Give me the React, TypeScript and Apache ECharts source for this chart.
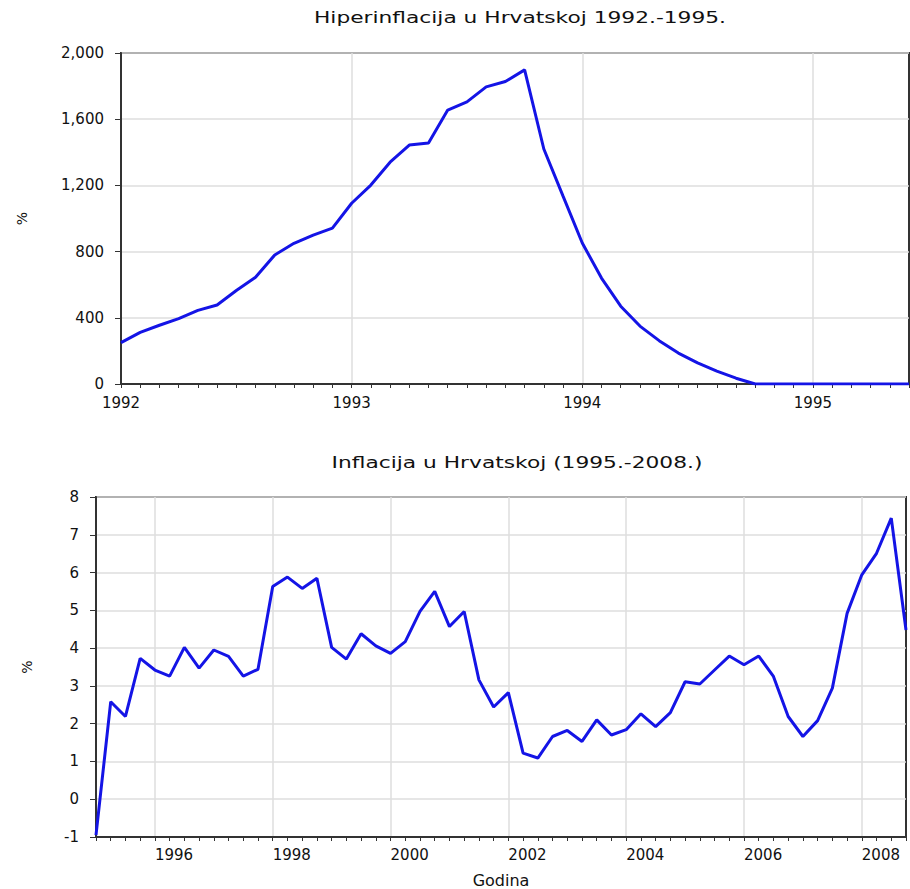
import React, { useEffect, useRef } from "react";
import * as echarts from "echarts";

// Top chart: monthly hyperinflation, Jan 1992 – Jun 1995 (%)
const hyperMonths: string[] = [];
for (let y = 1992; y <= 1995; y++) {
  for (let m = 1; m <= 12; m++) {
    if (y === 1995 && m > 6) break;
    hyperMonths.push(`${y}M${m < 10 ? "0" + m : m}`);
  }
}
const hyperValues = [
  250, 312, 355, 395, 445, 477, 565, 645, 780, 850, 900, 942,
  1092, 1202, 1340, 1444, 1456, 1655, 1705, 1795, 1828, 1898, 1420, 1135,
  852, 640, 470, 350, 262, 187, 128, 78, 35, 0, 0, 0,
  0, 0, 0, 0, 0, 0,
];

// Bottom chart: quarterly inflation, 1995Q1 – 2008Q4 (%)
const inflQuarters: string[] = [];
for (let y = 1995; y <= 2008; y++) {
  for (let q = 1; q <= 4; q++) inflQuarters.push(`${y}Q${q}`);
}
const inflValues = [
  -0.95, 2.58, 2.19, 3.73, 3.42, 3.26, 4.02, 3.47, 3.95, 3.78, 3.26, 3.44,
  5.63, 5.88, 5.58, 5.85, 4.02, 3.71, 4.38, 4.06, 3.86, 4.17, 4.97, 5.5,
  4.57, 4.97, 3.16, 2.44, 2.82, 1.22, 1.09, 1.66, 1.82, 1.53, 2.1, 1.7,
  1.84, 2.26, 1.92, 2.29, 3.11, 3.05, 3.42, 3.79, 3.56, 3.79, 3.25, 2.19,
  1.66, 2.08, 2.94, 4.92, 5.94, 6.51, 7.44, 4.48,
];

const topTitle = "Hiperinflacija u Hrvatskoj 1992.-1995.";
const bottomTitle = "Inflacija u Hrvatskoj (1995.-2008.)";
const xName = "Godina";
const yName = "%";

const FONT = "DejaVu Sans";
const LINE = "#1414e6";
const AXIS = "#333333";
const GRID = "#dedede";

export default function App() {
  const ref = useRef<HTMLDivElement>(null);
  useEffect(() => {
    if (!ref.current) return;
    const chart = echarts.init(ref.current, null, { renderer: "svg" });

    const isYearMonth = (i: number) => i % 12 === 0;
    const isEvenYearQ = (i: number) => i >= 4 && (i - 4) % 8 === 0;

    const labelStyle = { fontFamily: FONT, fontSize: 15, color: "#111" };

    chart.setOption({
      animation: false,
      backgroundColor: "#ffffff",
      graphic: [
        {
          type: "text",
          x: 520,
          y: 18,
          scaleX: 1.45,
          style: {
            text: topTitle,
            fontFamily: FONT,
            fontSize: 15,
            fill: "#111",
            align: "center",
            verticalAlign: "middle",
          },
        },
        {
          type: "text",
          x: 517,
          y: 463,
          scaleX: 1.45,
          style: {
            text: bottomTitle,
            fontFamily: FONT,
            fontSize: 15,
            fill: "#111",
            align: "center",
            verticalAlign: "middle",
          },
        },
      ],
      grid: [
        { left: 121, top: 53, right: 1, height: 331, show: true, borderColor: AXIS, borderWidth: 2 },
        { left: 96, top: 497, right: 4, height: 341, show: true, borderColor: AXIS, borderWidth: 2 },
      ],
      xAxis: [
        {
          type: "category",
          gridIndex: 0,
          data: hyperMonths,
          boundaryGap: false,
          axisLine: { onZero: false, lineStyle: { color: AXIS, width: 2 } },
          axisTick: { show: true, interval: 0, length: 4, lineStyle: { color: AXIS } },
          axisLabel: {
            ...labelStyle,
            margin: 11,
            interval: (i: number) => isYearMonth(i),
            formatter: (v: string) => v.slice(0, 4),
          },
          splitLine: {
            show: true,
            interval: (i: number) => isYearMonth(i),
            lineStyle: { color: GRID, width: 1.5 },
          },
        },
        {
          type: "category",
          gridIndex: 1,
          data: inflQuarters,
          boundaryGap: false,
          name: xName,
          nameLocation: "middle",
          nameGap: 35,
          nameTextStyle: { fontFamily: FONT, fontSize: 16, color: "#111" },
          axisLine: { onZero: false, lineStyle: { color: AXIS, width: 2 } },
          axisTick: { show: true, interval: 0, length: 4, lineStyle: { color: AXIS } },
          axisLabel: {
            ...labelStyle,
            margin: 10,
            align: "left",
            interval: (i: number) => isEvenYearQ(i),
            formatter: (v: string) => v.slice(0, 4),
          },
          splitLine: {
            show: true,
            interval: (i: number) => isEvenYearQ(i),
            lineStyle: { color: GRID, width: 1.5 },
          },
        },
      ],
      yAxis: [
        {
          type: "value",
          gridIndex: 0,
          min: 0,
          max: 2000,
          interval: 400,
          name: yName,
          nameLocation: "middle",
          nameRotate: 90,
          nameGap: 92,
          nameTextStyle: { fontFamily: FONT, fontSize: 14, color: "#111" },
          axisLine: { show: true, lineStyle: { color: AXIS, width: 2 } },
          axisTick: { show: true, length: 6, lineStyle: { color: AXIS } },
          axisLabel: {
            ...labelStyle,
            margin: 17,
            formatter: (v: number) => v.toLocaleString("en-US"),
          },
          splitLine: { show: true, lineStyle: { color: GRID, width: 1.5 } },
        },
        {
          type: "value",
          gridIndex: 1,
          min: -1,
          max: 8,
          interval: 1,
          name: yName,
          nameLocation: "middle",
          nameRotate: 90,
          nameGap: 62,
          nameTextStyle: { fontFamily: FONT, fontSize: 14, color: "#111" },
          axisLine: { show: true, lineStyle: { color: AXIS, width: 2 } },
          axisTick: { show: true, length: 6, lineStyle: { color: AXIS } },
          axisLabel: { ...labelStyle, margin: 17 },
          splitLine: { show: true, lineStyle: { color: GRID, width: 1.5 } },
        },
      ],
      series: [
        {
          type: "line",
          xAxisIndex: 0,
          yAxisIndex: 0,
          data: hyperValues,
          showSymbol: false,
          lineStyle: { color: LINE, width: 3 },
          z: 5,
        },
        {
          type: "line",
          xAxisIndex: 1,
          yAxisIndex: 1,
          data: inflValues,
          showSymbol: false,
          lineStyle: { color: LINE, width: 3 },
          z: 5,
        },
      ],
    });
    return () => chart.dispose();
  }, []);

  return (
    <div
      ref={ref}
      style={{ position: "absolute", left: 0, top: 0, width: 910, height: 889 }}
    />
  );
}
